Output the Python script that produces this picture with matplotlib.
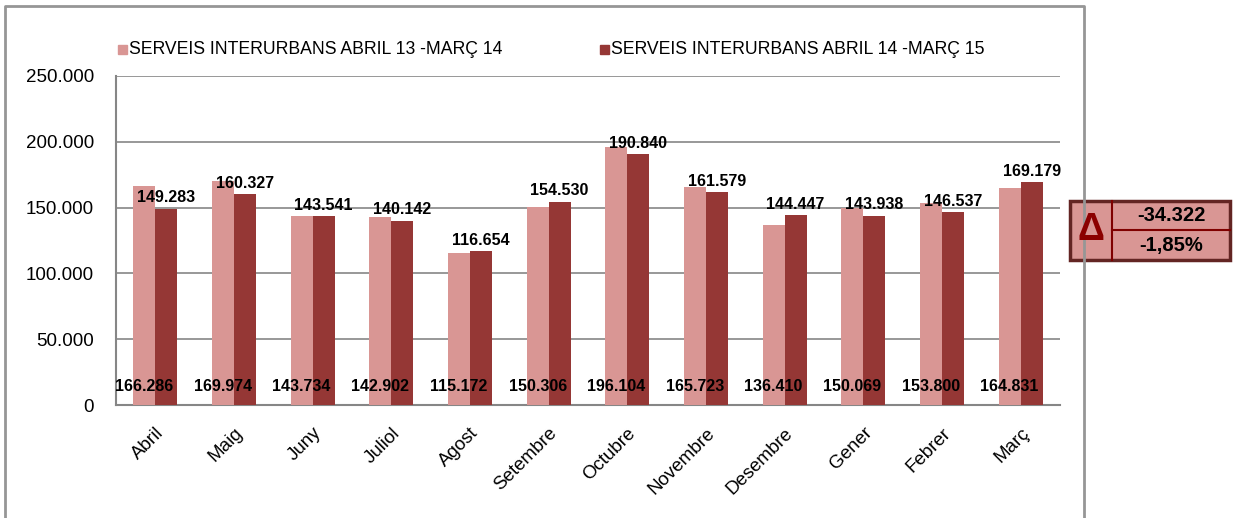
import numpy as np
import matplotlib.pyplot as plt
from matplotlib.patches import Rectangle
from matplotlib.lines import Line2D
from matplotlib.ticker import FuncFormatter

plt.rcParams['font.family'] = ['Liberation Sans', 'DejaVu Sans']

mesos = ['Abril', 'Maig', 'Juny', 'Juliol', 'Agost', 'Setembre', 'Octubre',
         'Novembre', 'Desembre', 'Gener', 'Febrer', 'Març']
serie_13_14 = [166286, 169974, 143734, 142902, 115172, 150306, 196104,
               165723, 136410, 150069, 153800, 164831]
serie_14_15 = [149283, 160327, 143541, 140142, 116654, 154530, 190840,
               161579, 144447, 143938, 146537, 169179]
nom_13_14 = 'SERVEIS INTERURBANS ABRIL 13 -MARÇ 14'
nom_14_15 = 'SERVEIS INTERURBANS ABRIL 14 -MARÇ 15'
delta_abs = '-34.322'
delta_pct = '-1,85%'

clar = '#D99694'
fosc = '#953735'

W, H = 1233, 518
fig = plt.figure(figsize=(W / 100, H / 100), dpi=100)
ax = fig.add_axes([116 / W, 1 - 405 / H, (1060 - 116) / W, (405 - 76) / H])

x = np.arange(len(mesos))
amp = 0.28
ax.bar(x - amp / 2, serie_13_14, amp, color=clar, zorder=3)
ax.bar(x + amp / 2, serie_14_15, amp, color=fosc, zorder=3)

def punts(v):
    return f'{v:,.0f}'.replace(',', '.')

for i in range(len(mesos)):
    ax.text(x[i] - amp / 2, 14000, punts(serie_13_14[i]), ha='center', va='center',
            fontsize=11.5, fontweight='bold', zorder=5)
    ax.text(x[i] + amp / 2, serie_14_15[i] + 2500, punts(serie_14_15[i]), ha='center',
            va='bottom', fontsize=11.5, fontweight='bold', zorder=5)

ax.set_xlim(-0.5, len(mesos) - 0.5)
ax.set_ylim(0, 250000)
ax.set_yticks(np.arange(0, 250001, 50000))
ax.yaxis.set_major_formatter(FuncFormatter(lambda v, p: punts(v)))
ax.grid(axis='y', color='#868686', linewidth=1.2, zorder=0)
ax.set_xticks(x)
ax.set_xticklabels(mesos, rotation=45, ha='right', rotation_mode='anchor')
ax.tick_params(axis='both', length=0, labelsize=13.5)
ax.tick_params(axis='y', pad=16)
ax.tick_params(axis='x', pad=14)
for k in ['top', 'right']:
    ax.spines[k].set_visible(False)
for k in ['left', 'bottom']:
    ax.spines[k].set_color('#868686')
    ax.spines[k].set_linewidth(1.5)

# llegenda
fig.patches.append(Rectangle((118 / W, 1 - 54 / H), 9 / W, 9 / H, color=clar,
                             transform=fig.transFigure))
fig.text(129 / W, 1 - 49 / H, nom_13_14, fontsize=12.7, va='center')
fig.patches.append(Rectangle((600 / W, 1 - 54 / H), 9 / W, 9 / H, color=fosc,
                             transform=fig.transFigure))
fig.text(611 / W, 1 - 49 / H, nom_14_15, fontsize=12.7, va='center')

# marc exterior
fig.add_artist(Line2D([5 / W, 5 / W, 1084 / W, 1084 / W],
                      [0, 1 - 6 / H, 1 - 6 / H, 0], color='#969696', linewidth=2))

# caixa delta
x0, x1, x2 = 1070 / W, 1112 / W, 1230 / W
y0, y1, y2 = 1 - 260 / H, 1 - 230 / H, 1 - 201 / H
fig.patches.append(Rectangle((x0, y0), x2 - x0, y2 - y0, facecolor=clar,
                             edgecolor='#632523', linewidth=2.5, transform=fig.transFigure))
fig.add_artist(Line2D([x1, x1], [y0, y2], color='#7F0000', linewidth=1.5))
fig.add_artist(Line2D([x1, x2], [y1, y1], color='#7F0000', linewidth=1.5))
fig.text((x0 + x1) / 2, (y0 + y2) / 2, 'Δ', fontsize=27, fontweight='bold',
         color='#8B0000', ha='center', va='center')
fig.text((x1 + x2) / 2, (y1 + y2) / 2, delta_abs, fontsize=14.5, fontweight='bold',
         ha='center', va='center')
fig.text((x1 + x2) / 2, (y0 + y1) / 2, delta_pct, fontsize=14.5, fontweight='bold',
         ha='center', va='center')

fig.savefig('out.png', dpi=100)
